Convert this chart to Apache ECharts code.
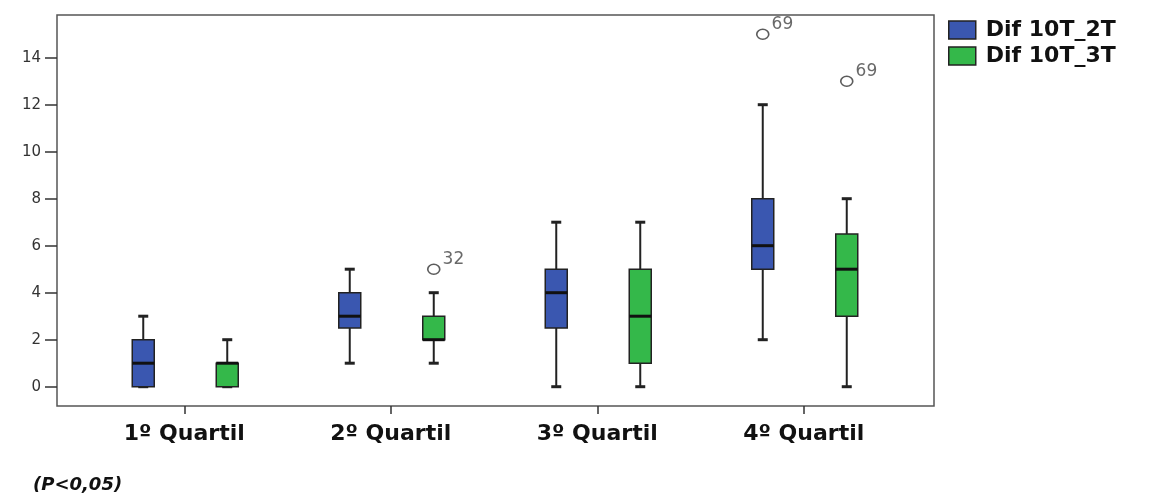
<!DOCTYPE html>
<html>
<head>
<meta charset="utf-8">
<style>
  html, body { margin: 0; padding: 0; background: #fff; }
  #chart { width: 1153px; height: 497px; }
</style>
<script src="https://cdn.jsdelivr.net/npm/echarts@6/dist/echarts.min.js"></script>
</head>
<body>
<div id="chart"></div>
<script>
var categories = ['1º Quartil', '2º Quartil', '3º Quartil', '4º Quartil'];
var seriesNames = ['Dif 10T_2T', 'Dif 10T_3T'];
var yTicks = [0, 2, 4, 6, 8, 10, 12, 14];

// [category, min, q1, median, q3, max]
var box2T = [
    [0, 0, 0, 1, 2, 3],
    [1, 1, 2.5, 3, 4, 5],
    [2, 0, 2.5, 4, 5, 7],
    [3, 2, 5, 6, 8, 12]
];
var box3T = [
    [0, 0, 0, 1, 1, 2],
    [1, 1, 2, 2, 3, 4],
    [2, 0, 1, 3, 5, 7],
    [3, 0, 3, 5, 6.5, 8]
];
// [category, value, case label]
var out2T = [[3, 15, '69']];
var out3T = [[1, 5, '32'], [3, 13, '69']];

var colors = ['#3a57b0', '#34b84a'];
var shifts = [-41, 43];
var BOX_W = 22, CAP_W = 10;

var myChart = echarts.init(document.getElementById('chart'));

function boxRenderer(idx) {
    return function (params, api) {
        var x = api.coord([api.value(0), 0])[0] + shifts[idx];
        var yMin = api.coord([0, api.value(1)])[1];
        var yQ1 = api.coord([0, api.value(2)])[1];
        var yMed = api.coord([0, api.value(3)])[1];
        var yQ3 = api.coord([0, api.value(4)])[1];
        var yMax = api.coord([0, api.value(5)])[1];
        var line = { stroke: '#222', lineWidth: 2 };
        var cap = { stroke: '#222', lineWidth: 3 };
        return {
            type: 'group',
            children: [
                { type: 'line', shape: { x1: x, y1: yMax, x2: x, y2: yQ3 }, style: line },
                { type: 'line', shape: { x1: x, y1: yQ1, x2: x, y2: yMin }, style: line },
                { type: 'line', shape: { x1: x - CAP_W / 2, y1: yMax, x2: x + CAP_W / 2, y2: yMax }, style: cap },
                { type: 'line', shape: { x1: x - CAP_W / 2, y1: yMin, x2: x + CAP_W / 2, y2: yMin }, style: cap },
                {
                    type: 'rect',
                    shape: { x: x - BOX_W / 2, y: yQ3, width: BOX_W, height: yQ1 - yQ3 },
                    style: { fill: colors[idx], stroke: '#222', lineWidth: 1.5 }
                },
                {
                    type: 'line',
                    shape: { x1: x - BOX_W / 2, y1: yMed, x2: x + BOX_W / 2, y2: yMed },
                    style: { stroke: '#111', lineWidth: 3 }
                }
            ]
        };
    };
}

function outlierSeries(idx, data) {
    return {
        name: seriesNames[idx],
        type: 'scatter',
        xAxisIndex: 1,
        yAxisIndex: 1,
        clip: false,
        symbol: 'circle',
        symbolSize: [12, 10],
        symbolOffset: [shifts[idx], 0],
        itemStyle: { color: '#fff', borderColor: '#333', borderWidth: 1.5 },
        label: {
            show: true,
            position: 'right',
            distance: 1,
            offset: [1, -10],
            color: '#444',
            fontSize: 17,
            fontFamily: 'DejaVu Sans',
            formatter: function (p) { return p.value[2]; }
        },
        data: data
    };
}

var option = {
    animation: false,
    textStyle: { fontFamily: 'DejaVu Sans' },
    grid: [
        // frame
        { left: 57, right: 219, top: 15, bottom: 91, show: true, borderColor: '#555', borderWidth: 1.5 },
        // data area, 0..14 mapped onto the frame
        { left: 81, right: 246, top: 57.7, bottom: 110.3 },
        // category ticks under the frame
        { left: 81, right: 246, top: 15, bottom: 91 }
    ],
    xAxis: [
        { gridIndex: 0, type: 'value', show: false },
        { gridIndex: 1, type: 'category', data: categories, show: false },
        {
            gridIndex: 2,
            type: 'category',
            data: categories,
            axisLine: { show: false },
            axisTick: { show: true, alignWithLabel: true, length: 8, lineStyle: { color: '#333', width: 1.5 } },
            axisLabel: { margin: 17, color: '#111', fontWeight: 'bold', fontSize: 22 }
        }
    ],
    yAxis: [
        { gridIndex: 0, type: 'value', show: false },
        {
            gridIndex: 1,
            type: 'value',
            min: yTicks[0],
            max: yTicks[yTicks.length - 1],
            interval: 2,
            offset: 24,
            splitLine: { show: false },
            axisLine: { show: false },
            axisTick: { show: true, length: 12, lineStyle: { color: '#333', width: 1.5 } },
            axisLabel: { margin: 16, color: '#333', fontSize: 15 }
        },
        { gridIndex: 2, type: 'value', show: false }
    ],
    legend: {
        data: seriesNames,
        orient: 'vertical',
        left: 943,
        top: 14,
        icon: 'rect',
        itemWidth: 27,
        itemHeight: 18,
        itemGap: 4,
        itemStyle: { borderColor: '#222', borderWidth: 1.5 },
        textStyle: { fontSize: 22, fontWeight: 'bold', color: '#111', padding: [0, 0, 0, 5] }
    },
    graphic: [{
        type: 'text',
        left: 33,
        top: 476,
        style: { text: '(P<0,05)', font: 'italic bold 18px "DejaVu Sans"', fill: '#111' }
    }],
    series: [
        {
            name: seriesNames[0], type: 'custom', xAxisIndex: 1, yAxisIndex: 1,
            itemStyle: { color: colors[0] },
            encode: { x: 0, y: [1, 2, 3, 4, 5] },
            renderItem: boxRenderer(0), data: box2T
        },
        {
            name: seriesNames[1], type: 'custom', xAxisIndex: 1, yAxisIndex: 1,
            itemStyle: { color: colors[1] },
            encode: { x: 0, y: [1, 2, 3, 4, 5] },
            renderItem: boxRenderer(1), data: box3T
        },
        outlierSeries(0, out2T),
        outlierSeries(1, out3T)
    ]
};

myChart.setOption(option);
window.addEventListener('resize', myChart.resize);
</script>
</body>
</html>
